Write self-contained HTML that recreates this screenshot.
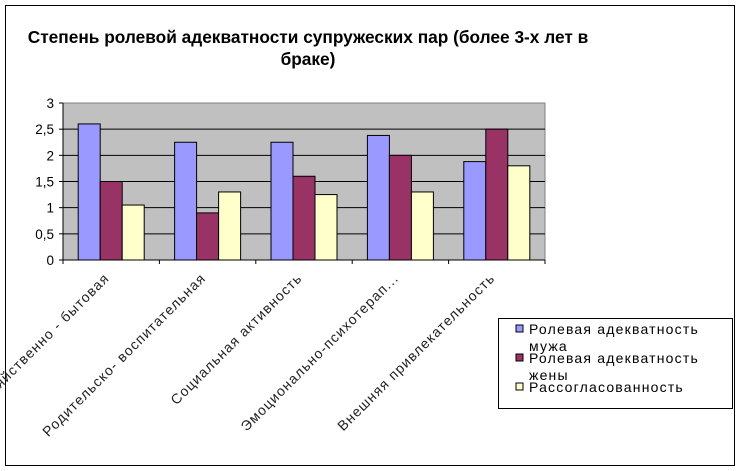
<!DOCTYPE html>
<html><head><meta charset="utf-8"><style>
body{margin:0;background:#fff;}
svg{display:block;font-family:"Liberation Sans",sans-serif;}
</style></head><body>
<svg id="chart" width="741" height="471">
<rect x="5.5" y="5.5" width="729" height="460" fill="#fff" stroke="#000"/>
<text x="308" y="43" text-anchor="middle" font-size="17.3" font-weight="bold">Степень ролевой адекватности супружеских пар (более 3-х лет в</text>
<text x="308" y="65" text-anchor="middle" font-size="17.3" font-weight="bold">браке)</text>
<rect x="63" y="103" width="482" height="157" fill="#C0C0C0" stroke="#808080"/>
<g id="grid"></g><g id="bars"></g><g id="axes"></g>
<g>
<rect x="498.5" y="318.5" width="234" height="90" fill="#fff" stroke="#000"/>
<rect x="516" y="325" width="7" height="7" fill="#9999FF" stroke="#000"/>
<text x="529" y="334" font-size="14" letter-spacing="1.2">Ролевая адекватность</text>
<text x="529" y="351" font-size="14" letter-spacing="1.2">мужа</text>
<rect x="516" y="354" width="7" height="7" fill="#993366" stroke="#000"/>
<text x="529" y="363" font-size="14" letter-spacing="1.2">Ролевая адекватность</text>
<text x="529" y="380" font-size="14" letter-spacing="1.2">жены</text>
<rect x="516" y="383" width="7" height="7" fill="#FFFFCC" stroke="#000"/>
<text x="529" y="392" font-size="14" letter-spacing="1.2">Рассогласованность</text>
</g>
</svg>
<script>
const categories=["Хозяйственно - бытовая","Родительско- воспитательная","Социальная активность","Эмоционально-психотерап...","Внешняя привлекательность"];
const husband=[2.6,2.25,2.25,2.38,1.88];
const wife=[1.5,0.9,1.6,2.0,2.5];
const mismatch=[1.05,1.3,1.25,1.3,1.8];
const yTicks=[0,0.5,1,1.5,2,2.5,3];
const yTickLabels=["0","0,5","1","1,5","2","2,5","3"];
const NS="http://www.w3.org/2000/svg";
const X0=63,X1=545,Y0=260,Y1=103,YMAX=3;
const y=v=>Y0-(v/YMAX)*(Y0-Y1);
const cw=(X1-X0)/categories.length;
const x=i=>X0+i*cw;
function mk(tag,attrs,parent){const e=document.createElementNS(NS,tag);for(const k in attrs)e.setAttribute(k,attrs[k]);parent.appendChild(e);return e;}
const grid=document.getElementById('grid'),bars=document.getElementById('bars'),axes=document.getElementById('axes');
yTicks.forEach((t,i)=>{
 if(t>0&&t<YMAX){const l=mk('line',{x1:X0,x2:X1,y1:y(t),y2:y(t),stroke:'#000'},grid);
 
 }
 const tk=mk('line',{x1:X0-4,x2:X0,y1:y(t),y2:y(t),stroke:'#000'},axes);
 
 
 const tx=mk('text',{x:X0-9,y:y(t)+5,'text-anchor':'end','font-size':'13.5'},axes);
 tx.textContent=yTickLabels[i];
 
 
});
const series=[husband,wife,mismatch],colors=["#9999FF","#993366","#FFFFCC"],names=["husband","wife","mismatch"];
const bw=22,gap=(cw-3*bw)/2;
categories.forEach((c,i)=>{
 series.forEach((s,j)=>{
  const r=mk('rect',{x:x(i)+gap+j*bw,y:y(s[i]),width:bw,height:Y0-y(s[i]),fill:colors[j],stroke:'#000','stroke-width':1},bars);
  
  
 });
 const cx=x(i)+cw/2;
 const t=mk('text',{x:0,y:0,'text-anchor':'end','font-size':'14','letter-spacing':'1.1',fill:'#222',transform:`translate(${cx-1},${Y0+19}) rotate(-45)`},axes);
 t.textContent=c;
 
 
});
for(let i=0;i<=categories.length;i++){
 const tk=mk('line',{x1:x(i),x2:x(i),y1:Y0,y2:Y0+4,stroke:'#000'},axes);
 
 
}
const xa=mk('line',{x1:X0,x2:X1,y1:Y0,y2:Y0,stroke:'#000'},axes);


const ya=mk('line',{x1:X0,x2:X0,y1:Y0,y2:Y1,stroke:'#000'},axes);


</script>
</body></html>
